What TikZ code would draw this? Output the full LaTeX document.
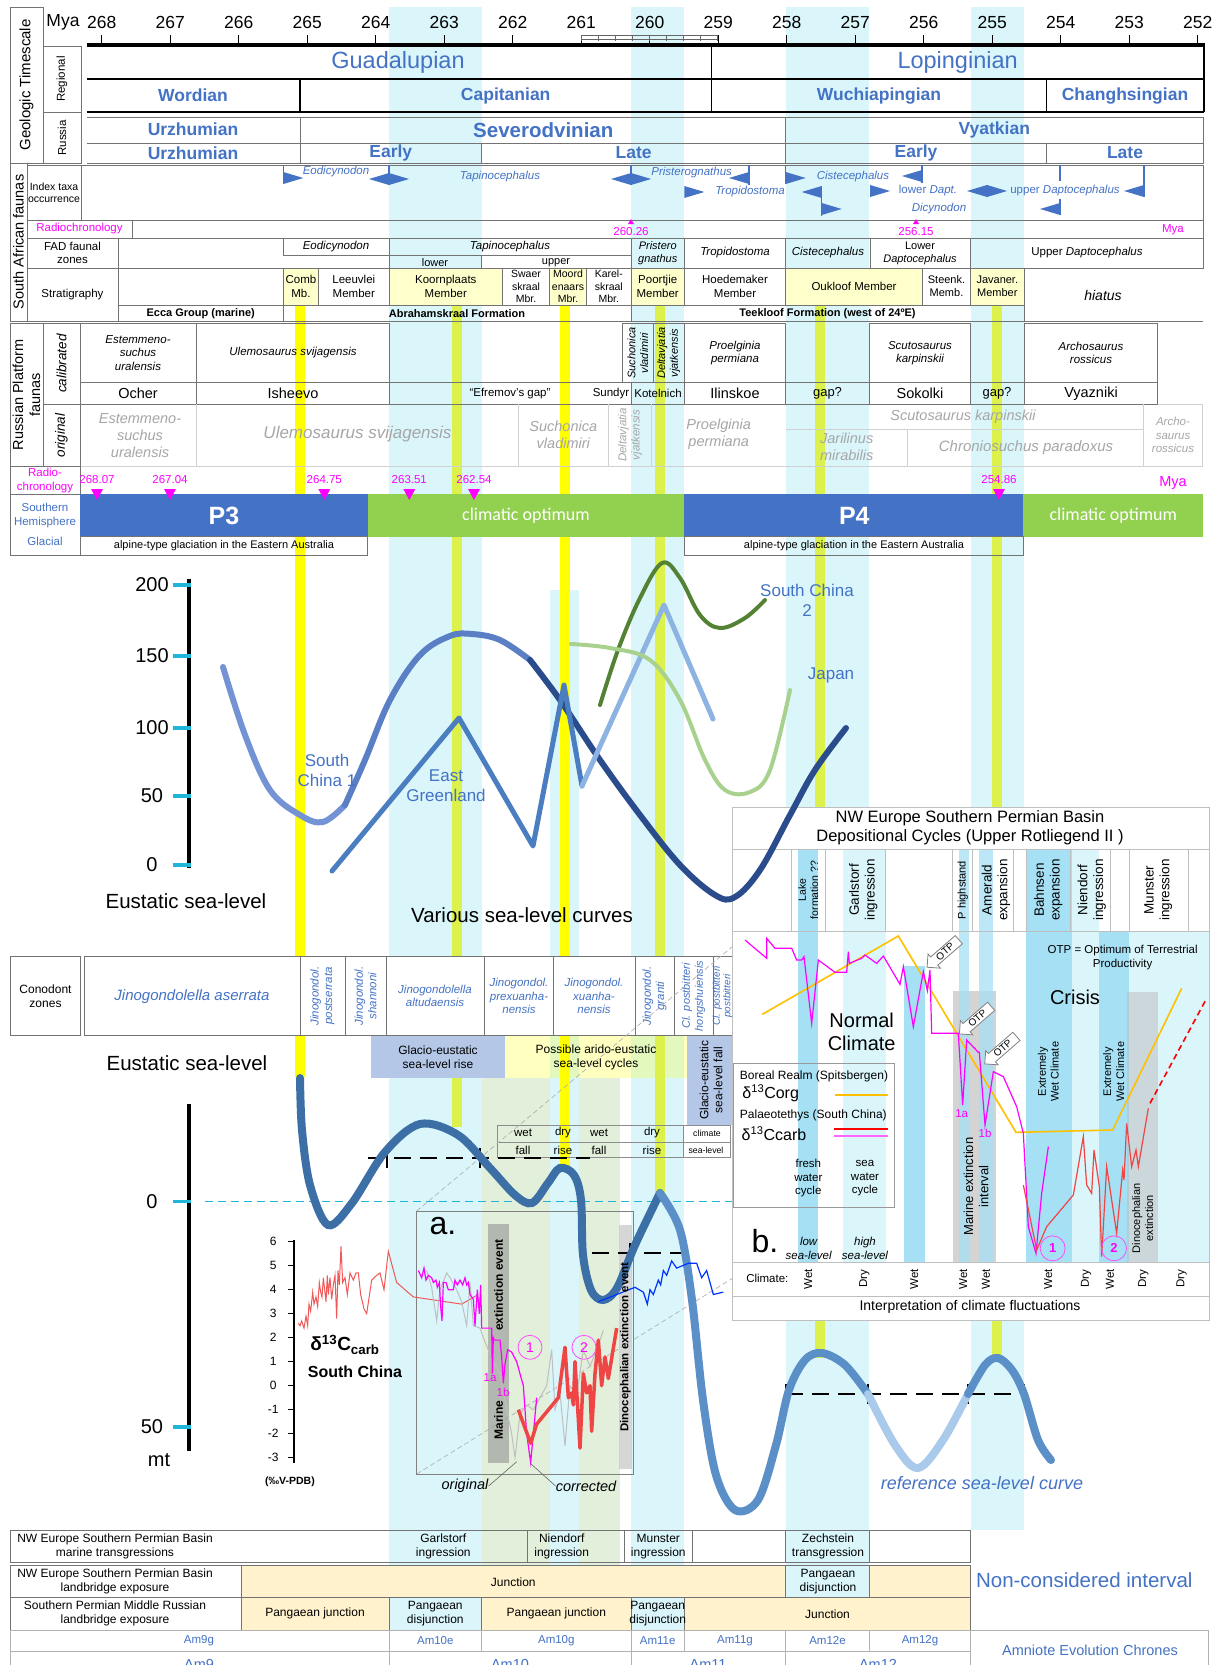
\documentclass[tikz,border=0pt]{standalone}
\usepackage{fontspec}
\setmainfont{Liberation Sans}
\newfontfamily\calib{Carlito}
\usetikzlibrary{shapes.arrows}
\definecolor{cyb}{HTML}{DAF6FB}
\definecolor{blu}{HTML}{4472C4}
\definecolor{grn}{HTML}{92D050}
\definecolor{ylw}{HTML}{FFFF00}
\definecolor{ygr}{HTML}{DCF14C}
\definecolor{mfill}{HTML}{FFFFCC}
\definecolor{ofill}{HTML}{FFF2CC}
\definecolor{mag}{HTML}{FF00FF}
\definecolor{lgrn}{HTML}{E2EFDA}
\definecolor{gbox}{HTML}{B4C7E7}
\definecolor{tickc}{HTML}{1FB6D9}
\definecolor{seab}{HTML}{3B6FA6}
\definecolor{seam}{HTML}{5B8FC8}
\definecolor{seal}{HTML}{A9CAEB}
\definecolor{bband}{HTML}{A6E0F5}
\definecolor{orgl}{HTML}{FFC000}
\definecolor{redl}{HTML}{F04545}
\definecolor{grtx}{HTML}{A6A6A6}
\definecolor{dgrn}{HTML}{548235}
\definecolor{lgrnl}{HTML}{A9D18E}
\definecolor{dblu}{HTML}{2B4C8C}
\definecolor{mblu}{HTML}{5A7FC4}
\definecolor{lblu}{HTML}{7393D4}
\definecolor{egb}{HTML}{4A7EC0}
\definecolor{egl}{HTML}{8DB3E2}
\tikzset{
  fs/.style={font=\fontsize{#1}{\fpeval{1.17*#1}}\selectfont},
  fsi/.style={font=\fontsize{#1}{\fpeval{1.17*#1}}\selectfont\itshape},
  fsb/.style={font=\fontsize{#1}{\fpeval{1.17*#1}}\selectfont\bfseries},
  gl/.style={draw=black!55, line width=0.9pt},
  ll/.style={draw=black!18, line width=0.9pt},
  otp/.style={single arrow, draw=black!50, fill=white, line width=0.8pt, rotate=41, shape border rotate=180, minimum height=42pt, single arrow head extend=4pt, inner sep=1.5pt, fs=10},
}
\newcommand\triR[2]{\fill[blu] (#1,#2-6) -- (#1+20,#2) -- (#1,#2+6) -- cycle;}
\newcommand\triL[2]{\fill[blu] (#1,#2-6) -- (#1-20,#2) -- (#1,#2+6) -- cycle;}
\newcommand\rdown[1]{\fill[mag] (#1-6,489) -- (#1+6,489) -- (#1,500) -- cycle;}
\begin{document}
\begin{tikzpicture}[x=1pt,y=-1pt, every node/.style={inner sep=0pt, align=center}]
\useasboundingbox (0,0) rectangle (1221,1665);
\fill[white] (0,0) rectangle (1221,1665);
% ---------- background bands
\fill[cyb] (389,7) rectangle (481.7,1630);
\fill[cyb] (631,7) rectangle (684.3,1630);
\fill[cyb] (785.7,7) rectangle (869.3,1630);
\fill[cyb] (970.7,7) rectangle (1024,1530);
\fill[cyb] (550,590) rectangle (579,1567);
\fill[lgrn] (481.7,1078) rectangle (550,1567);
\fill[lgrn] (579,1078) rectangle (620,1567);
\fill[ylw, opacity=0.25] (505,1035.7) rectangle (687,1078.3);
% ---------- yellow marker lines
\fill[ylw] (295,305) rectangle (305,1077);
\fill[ygr] (451.7,305) rectangle (461.7,1127);
\fill[ylw] (560,305) rectangle (570,1166);
\fill[ygr] (655,305) rectangle (665,1193);
\fill[ygr] (815,305) rectangle (825,1358);
\fill[ygr] (991.7,305) rectangle (1001.7,1362);
% ---------- geologic timescale
\draw[gl] (10,7) rectangle (43,163);
\node[fs=15, rotate=90] (gts) at (26.5,85) {Geologic Timescale};
\draw[gl] (43,46) rectangle (81,112);
\node[fs=11.5, rotate=90] (reg) at (62,79) {Regional};
\draw[gl] (43,112) rectangle (81,163);
\node[fs=11.5, rotate=90] (rus) at (62,138) {Russia};
\node[fs=17.5] (mya) at (63,22) {Mya};
\foreach \t [count=\i from 0] in {268,267,...,252} {
  \draw[line width=1.3pt] (101.7+68.5*\i,35) -- (101.7+68.5*\i,45);
  \node[fs=17.5] at (101.7+68.5*\i,22) {\t};
}
\draw[black!60, line width=0.6pt] (581,35.5) -- (717.7,35.5) (581,39.5) -- (717.7,39.5);
\foreach \k in {0,...,8} \draw[black!60, line width=0.6pt] (581+17.09*\k,35.5) -- (581+17.09*\k,41);
\draw[line width=4pt] (87,45) -- (1205,45);
\draw[line width=1.4pt] (87,79) -- (1204,79);
\draw[line width=1.6pt] (87,112) -- (1204,112);
\draw[line width=1.6pt] (1204,45) -- (1204,112);
\draw[line width=1.4pt] (711.7,45) -- (711.7,112) (300,79) -- (300,112) (1046.7,79) -- (1046.7,112);
\draw[gl] (87,117) -- (1203,117) -- (1203,163) -- (87,163);
\draw[gl] (87,143) -- (1203,143);
\draw[gl] (300,117) -- (300,163) (785.7,117) -- (785.7,163) (481.7,143) -- (481.7,163) (1046.7,143) -- (1046.7,163);
\node[fs=23.5, text=blu] (guad) at (398,62) {Guadalupian};
\node[fs=23.5, text=blu] (lop) at (957.6,62) {Lopinginian};
\node[fsb=17.5, text=blu] (word) at (193,95.7) {Wordian};
\node[fsb=17.5, text=blu] (cap) at (505.7,95.7) {Capitanian};
\node[fsb=17.5, text=blu] (wuch) at (879,95.7) {Wuchiapingian};
\node[fsb=17.5, text=blu] (chan) at (1125,95.7) {Changhsingian};
\node[fsb=17.5, text=blu] (urz1) at (193,129.7) {Urzhumian};
\node[fsb=17.5, text=blu] (urz2) at (193,153) {Urzhumian};
\node[fsb=20.5, text=blu] (sev) at (543.3,129.7) {Severodvinian};
\node[fsb=17.5, text=blu] (vya) at (994.3,129.7) {Vyatkian};
\node[fsb=17.5, text=blu] (e1) at (390.8,153) {Early};
\node[fsb=17.5, text=blu] (l1) at (633.7,153) {Late};
\node[fsb=17.5, text=blu] (e2) at (916,153) {Early};
\node[fsb=17.5, text=blu] (l2) at (1125,153) {Late};
% ---------- South African faunas
\draw[gl] (10,163) rectangle (27,321.7);
\node[fs=14.5, rotate=90] (saf) at (18.5,242) {South African faunas};
\draw[gl] (27,165) rectangle (81,220);
\node[fs=10.5] (ito) at (54,192.5) {Index taxa\\occurrence};
\draw[gl] (81,165) rectangle (1203,220);
\draw[gl] (27,220) rectangle (1203,238);
\draw[gl] (132,220) -- (132,238);
\node[fs=11.5, text=mag] (rc1) at (79.5,229) {Radiochronology};
\draw[gl] (27,238) rectangle (1203,268);
\draw[gl] (118,238) -- (118,268);
\node[fs=11.5] (fad) at (72.5,253) {FAD faunal\\zones};
\draw[gl] (283.3,238) rectangle (389,255.7);
\draw[gl] (389,255.7) -- (631,255.7) (481.7,255.7) -- (481.7,268);
\draw[gl] (389,238) -- (389,268) (631,238) -- (631,268) (684.3,238) -- (684.3,268) (785.7,238) -- (785.7,268) (870,238) -- (870,268) (970.7,238) -- (970.7,268);
\node[fsi=11.5] at (336,247) {Eodicynodon};
\node[fsi=11.5] at (510,247) {Tapinocephalus};
\node[fs=11] at (435,262.5) {lower};
\node[fs=11] at (556,262.5) {upper};
\node[fsi=11] at (657.7,253) {Pristero\\gnathus};
\node[fsi=11.5] at (735,253) {Tropidostoma};
\node[fsi=11.5] at (828,253) {Cistecephalus};
\node[fs=11] at (920,253) {Lower\\\textit{Daptocephalus}};
\node[fs=11.5] at (1087,253) {Upper \textit{Daptocephalus}};
% stratigraphy
\draw[gl] (27,268) rectangle (118,321.7);
\node[fs=11.5] (strat) at (72.5,295) {Stratigraphy};
\draw[gl] (118,268) rectangle (283.3,305);
\filldraw[gl, fill=mfill] (283.3,268) rectangle (318.7,305);
\node[fs=11.5] at (301,286.5) {Comb\\Mb.};
\draw[gl] (318.7,268) rectangle (389,305);
\node[fs=11.5] at (353.8,286.5) {Leeuvlei\\Member};
\filldraw[gl, fill=mfill] (389,268) rectangle (502.7,305);
\node[fs=11.5] at (445.8,286.5) {Koornplaats\\Member};
\draw[gl] (502.7,268) rectangle (549.3,305);
\node[fs=10.5] at (526,286.5) {Swaer\\skraal\\Mbr.};
\filldraw[gl, fill=mfill] (549.3,268) rectangle (586.7,305);
\node[fs=10.5] at (568,286.5) {Moord\\enaars\\Mbr.};
\draw[gl] (586.7,268) rectangle (631,305);
\node[fs=10.5] at (608.8,286.5) {Karel-\\skraal\\Mbr.};
\filldraw[gl, fill=mfill] (631,268) rectangle (684.3,305);
\node[fs=11.5] at (657.7,286.5) {Poortjie\\Member};
\draw[gl] (684.3,268) rectangle (785.7,305);
\node[fs=11.5] at (735,286.5) {Hoedemaker\\Member};
\filldraw[gl, fill=mfill] (785.7,268) rectangle (922.3,305);
\node[fs=11.5] at (854,286.5) {Oukloof Member};
\draw[gl] (922.3,268) rectangle (970.7,305);
\node[fs=11] at (946.5,286.5) {Steenk.\\Memb.};
\filldraw[gl, fill=mfill] (970.7,268) rectangle (1024,305);
\node[fs=11] at (997.3,286.5) {Javaner.\\Member};
\node[fsi=14] at (1103,295) {hiatus};
\draw[gl] (118,305) rectangle (283.3,321.7);
\node[fsb=11] at (200.7,313.5) {Ecca Group (marine)};
\draw[gl] (283.3,305) rectangle (631,321.7);
\node[fsb=11] at (457,313.5) {Abrahamskraal Formation};
\draw[gl] (631,305) rectangle (1024,321.7);
\node[fsb=11] at (827.5,313.5) {Teekloof Formation (west of 24ºE)};
\draw[gl] (1024,321.7) -- (1203,321.7);
% index taxa arrows
\draw[blu, line width=1.2pt] (283.3,165) -- (283.3,184);
\triR{283.3}{178}
\draw[blu, line width=1.2pt] (389,165) -- (389,185);
\triL{389}{179} \triR{389}{179}
\draw[blu, line width=1.2pt] (631,165) -- (631,185);
\triL{631}{179} \triR{631}{179}
\draw[blu, line width=1.2pt] (749,165) -- (749,185);
\triL{749}{178}
\triR{684.3}{192}
\draw[blu, line width=1.2pt] (785.7,165) -- (785.7,184);
\triR{785.7}{178}
\draw[blu, line width=1.2pt] (922,165) -- (922,183);
\triL{922}{176}
\draw[blu, line width=1.2pt] (821.7,186) -- (821.7,216);
\triL{821.7}{192} \triR{821.7}{209}
\triR{870}{191}
\triL{987}{191} \triR{987}{191}
\draw[blu, line width=1.2pt] (1060,165) -- (1060,181) (1060,199) -- (1060,215);
\triL{1060}{209}
\draw[blu, line width=1.2pt] (1144,165) -- (1144,197);
\triL{1144}{191}
\node[fsi=11.5, text=blu] at (336,172) {Eodicynodon};
\node[fsi=11.5, text=blu] at (500,177) {Tapinocephalus};
\node[fsi=11.5, text=blu] at (691.7,173) {Pristerognathus};
\node[fsi=11.5, text=blu] at (750,192) {Tropidostoma};
\node[fsi=11.5, text=blu] at (853,177) {Cistecephalus};
\node[fs=11.5, text=blu] at (928,191) {lower \textit{Dapt.}};
\node[fsi=11.5, text=blu] at (939,209) {Dicynodon};
\node[fs=11.5, text=blu] at (1065,191) {upper \textit{Daptocephalus}};
% radiochronology values
\fill[mag] (628,224) -- (634,224) -- (631,219) -- cycle;
\node[fs=11.5, text=mag] at (631,232) {260.26};
\fill[mag] (913,224) -- (919,224) -- (916,219) -- cycle;
\node[fs=11.5, text=mag] at (916,232) {256.15};
\node[fs=11.5, text=mag] at (1173,230) {Mya};
% ---------- Russian platform
\draw[gl] (10,323.3) rectangle (43,466.7);
\node[fs=14.5, rotate=90] (rpf) at (26.5,395) {Russian Platform\\faunas};
\draw[gl] (43,323.3) rectangle (80,404);
\node[fsi=13.5, rotate=90] (calib) at (61.5,363.7) {calibrated};
\draw[gl] (43,404) rectangle (80,466.7);
\node[fsi=13.5, rotate=90] (orig) at (61.5,435.3) {original};
\draw[gl] (80,323.3) rectangle (196.7,382.7);
\draw[gl] (196.7,323.3) rectangle (389,382.7);
\draw[gl] (622.7,323.3) rectangle (653,382.7);
\draw[gl] (653,323.3) rectangle (684.3,382.7);
\draw[gl] (684.3,323.3) rectangle (785.7,382.7);
\draw[gl] (869.3,323.3) rectangle (970.7,382.7);
\draw[gl] (1024,323.3) rectangle (1157.7,382.7);
\draw[gl] (80,382.7) -- (1157.7,382.7) (80,404) -- (1157.7,404);
\foreach \xx in {196.7,389,631,684.3,785.7,869.3,970.7,1024,1157.7} \draw[gl] (\xx,382.7) -- (\xx,404);
\node[fsi=11.5] at (138,353) {Estemmeno-\\suchus\\uralensis};
\node[fsi=11.5] at (293,353) {Ulemosaurus svijagensis};
\node[fsi=11, rotate=90] at (637.8,353) {Suchonica\\vladimiri};
\node[fsi=11, rotate=90] at (668.6,353) {Deltavjatia\\vjatkensis};
\node[fsi=11.5] at (735,353) {Proelginia\\permiana};
\node[fsi=11.5] at (920,353) {Scutosaurus\\karpinskii};
\node[fsi=11.5] at (1091,353) {Archosaurus\\rossicus};
\node[fs=14.5] at (138,393.3) {Ocher};
\node[fs=14.5] at (293,393.3) {Isheevo};
\node[fs=11.5] at (510,393.3) {“Efremov’s gap”};
\node[fs=11.5] at (611,393.3) {Sundyr};
\node[fs=11.5] at (658,393.3) {Kotelnich};
\node[fs=14.5] at (735,393.3) {Ilinskoe};
\node[fs=13] at (827.5,393.3) {gap?};
\node[fs=14.5] at (920,393.3) {Sokolki};
\node[fs=13] at (997,393.3) {gap?};
\node[fs=14.5] at (1091,393.3) {Vyazniki};
% original
\draw[ll] (80,466.7) -- (1202.7,466.7) (1157.7,404) -- (1202.7,404) -- (1202.7,466.7);
\draw[ll] (196.7,404) -- (196.7,466.7) (518.3,404) -- (518.3,466.7) (608.3,404) -- (608.3,466.7) (651.7,404) -- (651.7,466.7) (1143.3,404) -- (1143.3,466.7) (907.7,429.3) -- (907.7,466.7) (785.7,429.3) -- (1143.3,429.3);
\node[fsi=14.5, text=grtx] at (140,435.3) {Estemmeno-\\suchus\\uralensis};
\node[fsi=17, text=grtx] at (357.5,434) {Ulemosaurus svijagensis};
\node[fsi=14.5, text=grtx] at (563.3,435) {Suchonica\\vladimiri};
\node[fsi=11.5, text=grtx, rotate=90] at (630,435) {Deltavjatia\\vjatkensis};
\node[fsi=14.5, text=grtx] at (718.7,434) {Proelginia\\permiana};
\node[fsi=14.5, text=grtx] at (963,417) {Scutosaurus karpinskii};
\node[fsi=14.5, text=grtx] at (846.7,447) {Jarilinus\\mirabilis};
\node[fsi=15, text=grtx] at (1026,447.3) {Chroniosuchus paradoxus};
\node[fsi=11.5, text=grtx] at (1173,435.3) {Archo-\\saurus\\rossicus};
% radio-chronology row 2
\draw[gl] (10,466.7) rectangle (80,494.3);
\node[fs=11.5, text=mag] (rc2) at (45,480.5) {Radio-\\chronology};
\foreach \xx/\lab in {97/268.07,170/267.04,324.3/264.75,409.3/263.51,474/262.54,999/254.86} \node[fs=11.5, text=mag] at (\xx,479.3) {\lab};
\node[fs=14.5, text=mag] at (1173,482.7) {Mya};
% glacial bar
\draw[gl] (10,494.3) rectangle (80,555);
\node[fs=11.5, text=blu] (shg) at (45,515.3) {Southern\\Hemisphere};
\node[fs=11.5, text=blu] at (45,541.7) {Glacial};
\fill[blu] (80,494.3) rectangle (367.7,536.7);
\fill[grn] (367.7,494.3) rectangle (684.3,536.7);
\fill[blu] (684.3,494.3) rectangle (1023.3,536.7);
\fill[grn] (1023.3,494.3) rectangle (1203,536.7);
\node[fsb=25, text=white] (p3) at (224,515.5) {P3};
\node[fsb=25, text=white] (p4) at (854.3,515.5) {P4};
\node[text=white, font=\calib\fontsize{18}{20}\selectfont] at (526,515.5) {climatic optimum};
\node[text=white, font=\calib\fontsize{18}{20}\selectfont] at (1113.3,515.5) {climatic optimum};
\foreach \xx in {97,170,324.3,409.3,474,999} \rdown{\xx}
\draw[gl] (80,536.7) rectangle (367.7,555);
\node[fs=11] at (224,546) {alpine-type glaciation in the Eastern Australia};
\draw[gl] (684.3,536.7) rectangle (1023.3,555);
\node[fs=11] at (854,546) {alpine-type glaciation in the Eastern Australia};
% ---------- upper sea-level axis
\draw[line width=3.5pt] (189,579) -- (189,868);
\foreach \yy/\lab in {585/200,656/150,728/100,796/50,865/0} {
  \draw[tickc, line width=3.5pt] (173,\yy) -- (191,\yy);
  \node[fs=20] at (152,\yy) {\lab};
}
\node[fs=20.5] (esl1) at (186,901) {Eustatic sea-level};
\node[fs=20.5] (vsl) at (522,915) {Various sea-level curves};
% ---------- conodont zones
\filldraw[gl, fill=white] (10.4,956) rectangle (80.6,1035.7);
\node[fs=12] (cz) at (45.5,995.8) {Conodont\\zones};
\filldraw[gl, fill=white] (84,956) rectangle (732,1035.7);
\foreach \xx in {300,345,386,484,553.6,635,674,713} \draw[gl] (\xx,956) -- (\xx,1035.7);
\node[fsi=15, text=blu] at (192,997) {Jinogondolella aserrata};
\node[fsi=11.5, text=blu, rotate=90] at (322.5,996) {Jinogondol.\\postserrata};
\node[fsi=11.5, text=blu, rotate=90] at (365.5,996) {Jinogondol.\\shannoni};
\node[fsi=11.5, text=blu] at (435,996) {Jinogondolella\\altudaensis};
\node[fsi=11.5, text=blu] at (519,996) {Jinogondol.\\prexuanha-\\nensis};
\node[fsi=11.5, text=blu] at (594,996) {Jinogondol.\\xuanha-\\nensis};
\node[fsi=11.5, text=blu, rotate=90] at (654.5,996) {Jinogondol.\\granti};
\node[fsi=11, text=blu, rotate=90] at (693.5,996) {Cl. postbitteri\\hongshuiensis};
\node[text=blu, rotate=90, font=\fontsize{10}{8}\selectfont\itshape] at (722.5,996) {Cl. postbitteri\\postbitteri};
\fill[gbox] (371,1035.7) rectangle (505,1078.3);
\node[fs=12] at (438,1057) {Glacio-eustatic\\sea-level rise};
\node[fs=12] at (596,1057) {Possible arido-eustatic\\sea-level cycles};
\fill[gbox] (687,1035.7) rectangle (735.5,1125);
\node[fs=12, rotate=90] at (711,1080) {Glacio-eustatic\\sea-level fall};
\node[fs=20.5] (esl2) at (187,1063) {Eustatic sea-level};
% ---------- lower sea-level axis
\draw[line width=3.5pt] (189,1104) -- (189,1451);
\draw[tickc, line width=3.5pt] (173,1201.7) -- (191,1201.7) (173,1427) -- (191,1427);
\node[fs=20] at (152,1201.7) {0};
\node[fs=20] at (152,1427) {50};
\node[fs=20] at (159,1460) {mt};
\draw[tickc, line width=1.5pt, dash pattern=on 8pt off 5pt] (205,1201.7) -- (733,1201.7);
% climate / sea-level table
\draw[black!45, line width=0.8pt] (497,1125) rectangle (730,1157) (497,1142) -- (730,1142) (683,1125) -- (683,1157);
\foreach \xx/\a/\b in {523/wet/fall,563/dry/rise,599/wet/fall,652/dry/rise} {
  \node[fs=11.5] at (\xx,1133) {\a};
  \node[fs=11.5] at (\xx,1150) {\b};
}
\node[fs=8.7] at (707,1133) {climate};
\node[fs=8.7] at (706,1150) {sea-level};
% ---------- inset a
\draw[gray!60, dash pattern=on 5pt off 3pt, line width=0.7pt] (416.7,1211) -- (733,946);
\draw[gray!60, dash pattern=on 5pt off 3pt, line width=0.7pt] (416.7,1474) -- (733,1278);
\draw[black!50, line width=0.9pt] (416.7,1211) rectangle (633.3,1474);
\fill[black!45, opacity=0.55] (488,1224) rectangle (509,1463);
\fill[black!20, opacity=0.8] (619,1225) rectangle (632,1469);
\node[fs=32] (alab) at (443,1226) {a.};
% dashed mean-level lines
\draw[line width=1.5pt, dash pattern=on 17pt off 9pt] (368,1158) -- (590,1158);
\draw[line width=1.5pt] (387,1148) -- (387,1168) (480,1148) -- (480,1168);
\draw[line width=1.5pt, dash pattern=on 17pt off 9pt] (592,1253) -- (685,1253);
\draw[line width=1.5pt] (630,1243) -- (630,1263) (685,1243) -- (685,1263);
\draw[line width=1.5pt, dash pattern=on 17pt off 9pt] (786,1394) -- (1024,1394);
\draw[line width=1.5pt] (786,1384) -- (786,1404) (868,1384) -- (868,1404) (968,1384) -- (968,1404) (1024,1384) -- (1024,1404);
% reference sea-level curve
\draw[seab, line width=8pt, line cap=round] plot[smooth, tension=0.55] coordinates {(300,1078) (302,1130) (310,1185) (328,1225) (352,1203) (385,1152) (420,1124) (458,1135) (490,1168) (515,1195) (532,1203) (548,1183) (560,1168) (574,1175) (581,1200) (583,1255) (591,1290) (603,1300) (617,1288) (635,1245) (660,1193)};
\draw[seam, line width=8pt, line cap=round] plot[smooth, tension=0.55] coordinates {(660,1193) (680,1230) (692,1300) (703,1400) (716,1475) (735,1510) (758,1500) (776,1445) (789,1390) (805,1360) (822,1353) (845,1365) (868,1394)};
\draw[seal, line width=8pt, line cap=round] plot[smooth, tension=0.55] coordinates {(868,1394) (895,1445) (918,1468) (943,1440) (968,1394)};
\draw[seam, line width=8pt, line cap=round] plot[smooth, tension=0.55] coordinates {(968,1394) (985,1365) (998,1358) (1012,1370) (1024,1394) (1038,1440) (1051,1460)};
\node[fsi=18, text=blu] (rslc) at (982,1483) {reference sea-level curve};
% delta13C axis
\draw[line width=2pt] (294.3,1240) -- (294.3,1463);
\foreach \v in {-3,...,6} {
  \draw[line width=1.5pt] (288,1385.7-24*\v) -- (294.3,1385.7-24*\v);
  \node[fs=12] at (273.3,1385.7-24*\v) {\v};
}
\node[fsb=19] (dcarb) at (345,1345) {δ\textsuperscript{13}C\textsubscript{carb}};
\node[fsb=16] (sch) at (355,1371.7) {South China};
\node[fsb=10.5] at (290,1481.7) {(‰V-PDB)};
\begin{scope}[shift={(240,1385.7)}, x=0.33333pt, y=24pt]
\draw[redl!90, line width=1pt] (175,2.6)--(180,2.5)--(185,2.7)--(192,2.4)--(198,2.9)--(203,2.5)--(207,3.4)--(212,3.1)--(218,3.9)--(222,3.4)--(228,3.7)--(233,3.3)--(238,4.3)--(242,3.9)--(246,3.7)--(250,4.5)--(254,4.0)--(258,3.5)--(262,4.6)--(265,3.8)--(270,4.5)--(275,3.6)--(280,4.2)--(285,4.6)--(290,2.8)--(294,4.8)--(298,4.2)--(303,5.8)--(308,4.3)--(315,4.5)--(322,3.8)--(330,4.7)--(340,4.4)--(348,4.7)--(355,4.7)--(362,3.8)--(372,3.2)--(380,3.0)--(395,4.4)--(410,4.6)--(420,4.7)--(432,4.0)--(445,5.6)--(470,4.3)--(520,3.7)--(665,3.4)--(715,3.8);
\draw[black!25, line width=1pt] (560,4.8)--(575,4.1)--(590,2.7)--(600,4.0)--(620,4.7)--(630,4.5)--(650,4.0)--(665,3.5)--(680,2.5)--(690,4.3)--(700,2.5)--(720,2.4)--(730,2.0)--(745,1.5)--(760,1.0)--(780,0.5)--(800,-1.0)--(815,-2.0)--(825,-3.0)--(840,-1.2)--(860,-0.8)--(880,-1.0)--(900,-0.5)--(920,0.0)--(935,1.5)--(945,-1.0)--(960,-0.3)--(975,-2.5)--(990,0.0)--(1010,-0.4)--(1030,1.5)--(1050,0.8)--(1075,1.7)--(1090,2.3);
\draw[mag, line width=1.2pt] (535,4.8)--(545,4.5)--(552,4.9)--(558,4.4)--(565,4.6)--(575,4.5)--(580,4.3)--(588,4.4)--(592,4.1)--(598,4.3)--(602,3.3)--(606,2.7)--(610,4.3)--(618,4.3)--(625,4.0)--(640,4.0)--(645,4.4)--(652,4.2)--(660,4.4)--(668,4.2)--(675,4.5)--(680,4.2)--(685,4.3)--(690,3.8)--(700,3.6)--(705,2.5)--(712,4.0)--(718,3.0)--(722,4.2)--(725,2.4)--(755,2.4)--(757,0.5)--(760,2.0)--(763,1.9)--(780,1.9)--(785,1.2)--(790,0.1)--(795,0.9)--(803,1.5)--(815,1.4)--(830,1.0)--(840,0.5)--(850,0.0)--(860,-2.0)--(872,-3.2)--(880,-2.0)--(890,-0.5);
\draw[redl, line width=3.5pt, line join=round] (835,-1.0)--(872,-2.4)--(890,-1.6)--(955,-0.5)--(975,1.6)--(985,-0.5)--(995,-0.3)--(1000,-0.8)--(1005,1.0)--(1020,-2.6)--(1030,0.5)--(1040,-0.3)--(1050,0.0)--(1055,-1.9)--(1065,0.5)--(1075,1.9)--(1085,0.0)--(1095,1.2)--(1105,0.3)--(1130,2.4);
\draw[blue!80!cyan, line width=1.2pt] (1075,3.5)--(1130,3.8)--(1185,4.1)--(1210,3.9)--(1222,3.4)--(1230,4.0)--(1240,3.8)--(1255,4.4)--(1262,4.2)--(1270,4.8)--(1280,4.6)--(1295,5.2)--(1310,4.9)--(1345,5.1)--(1370,5.1)--(1385,4.5)--(1400,4.8)--(1420,3.8)--(1450,3.9);
\end{scope}
\node[fsb=12, rotate=90] at (498.5,1420) {Marine};
\node[fsb=12, rotate=90] at (498.5,1285) {extinction event};
\node[fsb=11.5, rotate=90] at (625.5,1347) {Dinocephalian extinction event};
\draw[mag!70, line width=0.8pt] (530,1347.3) circle[radius=12pt] (584,1347.3) circle[radius=12pt];
\node[fs=14, text=mag] at (530,1347.3) {1};
\node[fs=14, text=mag] at (584,1347.3) {2};
\node[fs=11.5, text=mag] at (490,1378) {1a};
\node[fs=11.5, text=mag] at (503,1392) {1b};
\node[fsi=14.5] (origt) at (465,1486) {original};
\node[fsi=14.5] (corrt) at (586,1486) {corrected};
\draw[black!60, line width=0.6pt] (origt.east) -- (516.7,1461.7);
\draw[black!60, line width=0.6pt] (corrt.west) -- (530,1463);
% ---------- panel b
\filldraw[draw=black!25, fill=white, line width=0.8pt] (732.7,807.3) rectangle (1209,1320);
\begin{scope}[shift={(730,800)}, x=0.33333pt, y=-0.33333pt]
\fill[bband] (205,147) rectangle (265,1388);
\fill[cyb] (340,147) rectangle (467,1388);
\fill[bband] (522,497) rectangle (585,1388);
\fill[black!17] (668,572) rectangle (798,1388);
\fill[bband, opacity=0.75] (688,147) rectangle (717,1388);
\fill[bband, opacity=0.75] (748,147) rectangle (790,1388);
\fill[bband] (888,147) rectangle (1025,1388);
\fill[cyb] (1025,147) rectangle (1108,1388);
\fill[bband] (1108,395) rectangle (1198,1388);
\fill[cyb] (1198,395) rectangle (1437,1388);
\fill[black!25, opacity=0.55] (1190,575) rectangle (1283,1388);
\draw[black!25, line width=0.8pt] (8,147) -- (1437,147) (8,395) -- (1437,395) (8,1388) -- (1437,1388) (8,1488) -- (1437,1488);
\foreach \xx in {185,287,467,668,728,850,888,1020,1140,1198,1375} \draw[black!25, line width=0.8pt] (\xx,147) -- (\xx,395);
\node[fs=16.5] (bt1) at (720,55) {NW Europe Southern Permian Basin};
\node[fs=16.5] (bt2) at (720,112) {Depositional Cycles (Upper Rotliegend II )};
\node[fs=10.5, rotate=90] at (235,270) {Lake\\formation ??};
\node[fs=13.5, rotate=90] at (400,270) {Garlstorf\\ingression};
\node[fs=11, rotate=90] at (698,270) {P highstand};
\node[fs=13.5, rotate=90] at (798,270) {Amerald\\expansion};
\node[fs=13.5, rotate=90] at (955,270) {Bahnsen\\expansion};
\node[fs=13.5, rotate=90] at (1085,270) {Niendorf\\ingression};
\node[fs=13.5, rotate=90] at (1285,270) {Munster\\ingression};
% curves
\draw[orgl, line width=1.6pt] (97,643) -- (505,408) -- (858,997) -- (1148,990) -- (1355,565);
\draw[red, line width=1.6pt, dash pattern=on 6pt off 4pt] (1260,910) -- (1430,595);
\draw[mag, line width=1.2pt] (45,420)--(110,475)--(110,415)--(135,445)--(185,445)--(200,480)--(215,480)--(222,470)--(245,670)--(265,480)--(315,517)--(350,517)--(355,455)--(358,490)--(395,475)--(405,465)--(440,490)--(460,468)--(510,553)--(520,500)--(550,680)--(580,515)--(592,572)--(600,510)--(605,700)--(685,700)--(698,915)--(710,720)--(745,757)--(748,757)--(765,975)--(790,815)--(820,830)--(860,920)--(880,1000)--(895,1280)--(918,1360)--(935,1180)--(955,1040);
\draw[redl, line width=1.2pt] (880,1155)--(920,1350)--(950,1280)--(1030,1185)--(1060,1010)--(1070,1155)--(1085,1180)--(1092,1050)--(1108,1160)--(1115,1370)--(1130,1100)--(1160,1300)--(1178,1110)--(1182,1140)--(1190,970)--(1205,1100)--(1218,1050)--(1225,1100)--(1255,925);
\node[fs=11.5] at (1178,453) {OTP = Optimum of Terrestrial};
\node[fs=11.5] at (1178,493) {Productivity};
\node[fs=20] (crisis) at (1035,592) {Crisis};
\node[fs=20] (normal) at (395,696) {Normal\\Climate};
\node[otp] (otp1) at (645,455) {OTP};
\node[otp] (otp2) at (742,655) {OTP};
\node[otp] (otp3) at (818,745) {OTP};
\draw[black!40, line width=0.8pt] (10,790) rectangle (493,1222);
\node[fs=12] at (252,828) {Boreal Realm (Spitsbergen)};
\node[fs=16] at (122,880) {δ\textsuperscript{13}Corg};
\draw[orgl, line width=2pt] (315,886) -- (473,886);
\node[fs=12] at (250,946) {Palaeotethys (South China)};
\node[fs=16] at (132,1000) {δ\textsuperscript{13}Ccarb};
\draw[red, line width=2.2pt] (313,987) -- (473,987);
\draw[mag!60, line width=1.6pt] (313,1008) -- (473,1008);
\node[fs=11.5] at (235,1135) {fresh\\water\\cycle};
\node[fs=11.5] at (405,1135) {sea\\water\\cycle};
\node[fs=32] (blab) at (105,1322) {b.};
\node[fsi=11.5] at (236,1345) {low\\sea-level};
\node[fsi=11.5] at (405,1345) {high\\sea-level};
\node[fs=13, rotate=90] at (738,1160) {Marine extinction\\interval};
\node[fs=11, rotate=90] at (955,815) {Extremely\\Wet Climate};
\node[fs=11, rotate=90] at (1151,815) {Extremely\\Wet Climate};
\node[fs=11, rotate=90] at (1238,1255) {Dinocephalian\\extinction};
\node[fs=11.5, text=mag] at (695,940) {1a};
\node[fs=11.5, text=mag] at (765,1000) {1b};
\draw[mag!70, line width=0.8pt] (968,1345) circle[radius=12.5pt] (1152,1345) circle[radius=12.5pt];
\node[fsb=13, text=mag] at (968,1345) {1};
\node[fsb=13, text=mag] at (1152,1345) {2};
\node[fs=11.5] at (112,1435) {Climate:};
\foreach \xx/\w in {235/Wet,403/Dry,553/Wet,700/Wet,768/Wet,955/Wet,1068/Dry,1140/Wet,1240/Dry,1355/Dry} \node[fs=11.5, rotate=90] at (\xx,1437) {\w};
\node[fs=14] at (720,1520) {Interpretation of climate fluctuations};
\end{scope}
% ---------- upper curves (on top)
\draw[lblu, line width=6pt, line cap=round] plot[smooth, tension=0.6] coordinates {(223,667) (245,735) (270,790) (300,815) (323,822) (345,805)};
\draw[mblu, line width=6pt, line cap=round] plot[smooth, tension=0.6] coordinates {(345,805) (365,760) (390,700) (420,655) (450,636) (472,634) (500,640) (530,660)};
\draw[dblu, line width=6pt, line cap=round] plot[smooth, tension=0.6] coordinates {(530,660) (560,700) (600,760) (640,815) (680,865) (715,895) (735,897) (760,870) (790,815) (815,770) (846,728)};
\draw[egb, line width=5pt, line cap=round, line join=round] (332,871) -- (459,718) -- (533,846) -- (564,685) -- (582,786);
\draw[egl, line width=5pt, line cap=round, line join=round] (582,786) -- (664,605) -- (713,719);
\draw[dgrn, line width=4pt, line cap=round] plot[smooth, tension=0.6] coordinates {(600,705) (618,650) (640,598) (662,563) (680,578) (700,615) (720,628) (745,618) (765,600)};
\draw[lgrnl, line width=4pt, line cap=round] plot[smooth, tension=0.6] coordinates {(571,644) (610,648) (650,660) (680,700) (705,760) (725,790) (750,792) (770,770) (790,690)};
\node[fs=17, text=blu] (sc1) at (327,770) {South\\China 1};
\node[fs=17, text=blu] (eg) at (446,786) {East\\Greenland};
\node[fs=17, text=blu] (sc2) at (807,600) {South China\\2};
\node[fs=17, text=blu] (jap) at (831,675) {Japan};
% ---------- bottom tables
\draw[gl] (10,1530.7) rectangle (970.7,1562.7);
\foreach \xx in {527.7,624,692.3,785.7,869.3} \draw[gl] (\xx,1530.7) -- (\xx,1562.7);
\node[fs=12] at (115,1546.7) {NW Europe Southern Permian Basin\\marine transgressions};
\node[fs=12] at (443.3,1546.7) {Garlstorf\\ingression};
\node[fs=12] at (561.7,1546.7) {Niendorf\\ingression};
\node[fs=12] at (658.3,1546.7) {Munster\\ingression};
\node[fs=12] at (828,1546.7) {Zechstein\\transgression};
\filldraw[gl, fill=white] (10,1565.7) rectangle (241,1597.7);
\filldraw[gl, fill=ofill] (241,1565.7) rectangle (785.7,1597.7);
\filldraw[gl, fill=cyb] (785.7,1565.7) rectangle (869.3,1597.7);
\filldraw[gl, fill=ofill] (869.3,1565.7) rectangle (970.7,1597.7);
\node[fs=12] at (115,1581.7) {NW Europe Southern Permian Basin\\landbridge exposure};
\node[fs=12] at (513.3,1581.7) {Junction};
\node[fs=12] at (828,1581.7) {Pangaean\\disjunction};
\filldraw[gl, fill=white] (10,1597.7) rectangle (241,1630);
\filldraw[gl, fill=ofill] (241,1597.7) rectangle (389,1630);
\filldraw[gl, fill=cyb] (389,1597.7) rectangle (481.7,1630);
\filldraw[gl, fill=ofill] (481.7,1597.7) rectangle (631,1630);
\filldraw[gl, fill=cyb] (631,1597.7) rectangle (684.3,1630);
\filldraw[gl, fill=ofill] (684.3,1597.7) rectangle (970.7,1630);
\node[fs=12] at (115,1613.8) {Southern Permian Middle Russian\\landbridge exposure};
\node[fs=12] at (315,1613.8) {Pangaean junction};
\node[fs=12] at (435.3,1613.8) {Pangaean\\disjunction};
\node[fs=12] at (556.3,1613.8) {Pangaean junction};
\node[fs=12] at (657.7,1613.8) {Pangaean\\disjunction};
\node[fs=12] at (827.5,1613.8) {Junction};
\draw[draw=black!30, line width=0.9pt] (10,1630) rectangle (970.7,1651.7);
\foreach \xx in {389,481.7,631,684.3,785.7,869.3} \draw[draw=black!30, line width=0.9pt] (\xx,1630) -- (\xx,1651.7);
\foreach \xx/\lab in {199/Am9g,435.3/Am10e,556.3/Am10g,657.7/Am11e,735/Am11g,827.5/Am12e,920/Am12g} \node[fs=11.5, text=blu] at (\xx,1640.8) {\lab};
\draw[draw=black!30, line width=0.9pt] (10,1651.7) rectangle (970.7,1680);
\foreach \xx in {389,631,785.7} \draw[draw=black!30, line width=0.9pt] (\xx,1651.7) -- (\xx,1680);
\foreach \xx/\lab in {199/Am9,510/Am10,708/Am11,878/Am12} \node[fs=14.5, text=blu] at (\xx,1664) {\lab};
\draw[draw=black!30, line width=0.9pt] (970.7,1630) rectangle (1208.3,1680);
\node[fs=14.5, text=blu] (aec) at (1090,1650) {Amniote Evolution Chrones};
\node[fs=20.5, text=blu] (nci) at (1084.3,1580) {Non-considered interval};
\end{tikzpicture}
\end{document}
